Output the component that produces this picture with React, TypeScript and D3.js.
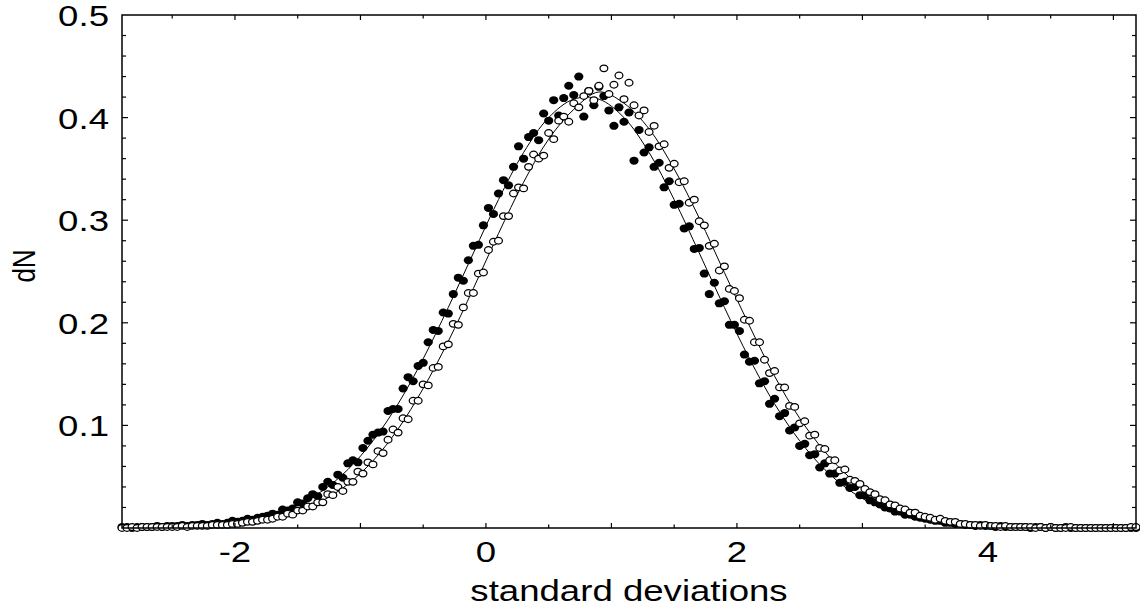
import { useEffect, useRef } from 'react';
import * as d3 from 'd3';

// histogram bins shared by both series
const binStart = -2.9;
const binWidth = 0.04;

// filled circles, 10 bins per row (row start in comment)
const filledValues = [
  0.001, 0.001, 0.0, 0.001, 0.001, 0.001, 0.001, 0.002, 0.001, 0.002, // -2.90
  0.002, 0.002, 0.003, 0.002, 0.003, 0.003, 0.004, 0.003, 0.004, 0.005, // -2.50
  0.004, 0.005, 0.007, 0.006, 0.007, 0.009, 0.008, 0.01, 0.011, 0.012, // -2.10
  0.014, 0.013, 0.018, 0.017, 0.019, 0.025, 0.024, 0.029, 0.033, 0.031, // -1.70
  0.04, 0.045, 0.042, 0.052, 0.049, 0.063, 0.066, 0.064, 0.078, 0.085, // -1.30
  0.091, 0.093, 0.094, 0.114, 0.116, 0.116, 0.136, 0.147, 0.143, 0.158, // -0.90
  0.161, 0.181, 0.193, 0.192, 0.21, 0.209, 0.228, 0.244, 0.241, 0.261, // -0.50
  0.275, 0.276, 0.295, 0.312, 0.306, 0.326, 0.339, 0.334, 0.352, 0.372, // -0.10
  0.36, 0.381, 0.385, 0.378, 0.404, 0.397, 0.417, 0.402, 0.419, 0.431, // 0.30
  0.422, 0.44, 0.401, 0.426, 0.412, 0.43, 0.421, 0.407, 0.392, 0.41, // 0.70
  0.396, 0.405, 0.358, 0.388, 0.366, 0.371, 0.352, 0.356, 0.332, 0.338, // 1.10
  0.315, 0.316, 0.292, 0.294, 0.272, 0.273, 0.248, 0.228, 0.239, 0.219, // 1.50
  0.221, 0.198, 0.198, 0.192, 0.169, 0.162, 0.163, 0.141, 0.143, 0.121, // 1.90
  0.126, 0.109, 0.112, 0.095, 0.098, 0.08, 0.082, 0.071, 0.072, 0.059, // 2.30
  0.063, 0.053, 0.053, 0.044, 0.045, 0.039, 0.04, 0.032, 0.032, 0.027, // 2.70
  0.025, 0.023, 0.02, 0.019, 0.016, 0.016, 0.013, 0.013, 0.011, 0.01, // 3.10
  0.009, 0.008, 0.007, 0.007, 0.005, 0.005, 0.004, 0.004, 0.003, 0.003, // 3.50
  0.002, 0.003, 0.002, 0.002, 0.001, 0.002, 0.001, 0.001, 0.001, 0.001, // 3.90
  0.001, 0.0, 0.001, 0.001, 0.0, 0.001, 0.0, 0.0, 0.001, 0.0, // 4.30
  0.0, 0.0, 0.0, 0.0, 0.0, 0.0, 0.0, 0.0, 0.0, 0.0, // 4.70
  0.0, 0.0, 0.0, // 5.10
];

// open circles, same bins
const openValues = [
  0.0, 0.0, 0.001, 0.0, 0.001, 0.001, 0.001, 0.001, 0.001, 0.001, // -2.90
  0.001, 0.001, 0.002, 0.001, 0.002, 0.002, 0.002, 0.002, 0.003, 0.003, // -2.50
  0.003, 0.003, 0.004, 0.004, 0.005, 0.006, 0.006, 0.007, 0.008, 0.008, // -2.10
  0.009, 0.011, 0.011, 0.014, 0.013, 0.017, 0.017, 0.021, 0.021, 0.025, // -1.70
  0.025, 0.033, 0.032, 0.04, 0.036, 0.045, 0.045, 0.055, 0.053, 0.064, // -1.30
  0.062, 0.075, 0.073, 0.086, 0.096, 0.093, 0.107, 0.106, 0.124, 0.124, // -0.90
  0.14, 0.139, 0.156, 0.157, 0.177, 0.179, 0.199, 0.198, 0.215, 0.229, // -0.50
  0.229, 0.248, 0.249, 0.271, 0.279, 0.28, 0.304, 0.304, 0.326, 0.332, // -0.10
  0.331, 0.352, 0.364, 0.36, 0.363, 0.385, 0.379, 0.397, 0.401, 0.396, // 0.30
  0.414, 0.41, 0.421, 0.426, 0.417, 0.431, 0.448, 0.423, 0.432, 0.441, // 0.70
  0.418, 0.434, 0.412, 0.402, 0.407, 0.386, 0.392, 0.372, 0.374, 0.351, // 1.10
  0.355, 0.337, 0.338, 0.317, 0.32, 0.299, 0.295, 0.275, 0.277, 0.251, // 1.50
  0.255, 0.233, 0.231, 0.224, 0.203, 0.202, 0.181, 0.181, 0.164, 0.151, // 1.90
  0.153, 0.137, 0.137, 0.119, 0.118, 0.102, 0.104, 0.09, 0.091, 0.078, // 2.30
  0.077, 0.066, 0.066, 0.056, 0.057, 0.047, 0.046, 0.043, 0.038, 0.035, // 2.70
  0.033, 0.028, 0.027, 0.023, 0.022, 0.019, 0.018, 0.015, 0.015, 0.012, // 3.10
  0.011, 0.01, 0.008, 0.009, 0.007, 0.006, 0.006, 0.004, 0.004, 0.003, // 3.50
  0.003, 0.002, 0.003, 0.002, 0.002, 0.001, 0.002, 0.001, 0.001, 0.001, // 3.90
  0.001, 0.001, 0.0, 0.001, 0.0, 0.001, 0.0, 0.0, 0.0, 0.001, // 4.30
  0.0, 0.0, 0.0, 0.0, 0.0, 0.0, 0.0, 0.0, 0.0, 0.0, // 4.70
  0.0, 0.001, 0.001, // 5.10
];

// fitted curves, read every 0.2 from -2.9
const fitStart = -2.9;
const fitStep = 0.2;
const filledFit = [
  0.0002, 0.0005, 0.001, 0.002, 0.004, 0.0074, 0.0131, 0.0224, 0.0365, 0.057,
  0.085, 0.121, 0.165, 0.215, 0.268, 0.32, 0.366, 0.4, 0.418, 0.418,
  0.4, 0.366, 0.32, 0.268, 0.215, 0.165, 0.121, 0.085, 0.057, 0.0365,
  0.0224, 0.0131, 0.0074, 0.004, 0.002, 0.001, 0.0005, 0.0002, 0.0001, 0.0,
  0.0, 0.0,
];
const openFit = [
  0.0001, 0.0003, 0.0006, 0.0013, 0.0026, 0.005, 0.009, 0.0158, 0.0268, 0.0427,
  0.0655, 0.0965, 0.136, 0.182, 0.2335, 0.287, 0.337, 0.379, 0.408, 0.425,
  0.414, 0.389, 0.35, 0.302, 0.249, 0.197, 0.148, 0.107, 0.0745, 0.049,
  0.031, 0.019, 0.011, 0.006, 0.0032, 0.0016, 0.0008, 0.0004, 0.0002, 0.0001,
  0.0, 0.0,
];

const xLabels = [-2, 0, 2, 4];
const yLabels = [0.1, 0.2, 0.3, 0.4, 0.5];

const font = "'Liberation Sans', Arial, sans-serif";
const stretch = 1.22;

export default function App() {
  const svgRef = useRef<SVGSVGElement | null>(null);

  useEffect(() => {
    const width = 1140;
    const height = 610;
    const margin = { top: 15, right: 4, bottom: 82, left: 122 };

    const svg = d3.select(svgRef.current);
    svg.selectAll('*').remove();

    const x = d3
      .scaleLinear()
      .domain([-2.9, 5.18])
      .range([margin.left, width - margin.right]);
    const y = d3
      .scaleLinear()
      .domain([0, 0.5])
      .range([height - margin.bottom, margin.top]);

    const [x0, x1] = x.range();
    const [yb, yt] = y.range();

    svg
      .append('defs')
      .append('clipPath')
      .attr('id', 'plot-clip')
      .append('rect')
      .attr('x', x0)
      .attr('y', yt)
      .attr('width', x1 - x0)
      .attr('height', yb - yt);

    // fitted curves
    const line = d3
      .line<number>()
      .x((_d, i) => x(fitStart + i * fitStep))
      .y((d) => y(d))
      .curve(d3.curveCatmullRom.alpha(0.5));

    const curves = svg.append('g').attr('clip-path', 'url(#plot-clip)');
    [filledFit, openFit].forEach((fit) => {
      curves
        .append('path')
        .attr('d', line(fit))
        .attr('fill', 'none')
        .attr('stroke', '#000')
        .attr('stroke-width', 1);
    });

    // filled points
    svg
      .append('g')
      .selectAll('ellipse')
      .data(filledValues)
      .enter()
      .append('ellipse')
      .attr('cx', (_d, i) => x(binStart + i * binWidth))
      .attr('cy', (d) => y(d))
      .attr('rx', 4.6)
      .attr('ry', 4)
      .attr('fill', '#000');

    // open points
    svg
      .append('g')
      .selectAll('ellipse')
      .data(openValues)
      .enter()
      .append('ellipse')
      .attr('cx', (_d, i) => x(binStart + i * binWidth))
      .attr('cy', (d) => y(d))
      .attr('rx', 3.9)
      .attr('ry', 3.3)
      .attr('fill', '#fff')
      .attr('stroke', '#000')
      .attr('stroke-width', 1.25);

    // frame
    svg
      .append('rect')
      .attr('x', x0)
      .attr('y', yt)
      .attr('width', x1 - x0)
      .attr('height', yb - yt)
      .attr('fill', 'none')
      .attr('stroke', '#000')
      .attr('stroke-width', 1.5);

    // ticks, pointing inward on all four sides
    const ticks = svg.append('g').attr('stroke', '#000').attr('stroke-width', 1.2);
    d3.range(-2.5, 5.01, 0.5).forEach((v) => {
      const len = Math.abs(v - Math.round(v)) < 1e-6 ? 5 : 3.5;
      ticks.append('line').attr('x1', x(v)).attr('x2', x(v)).attr('y1', yb).attr('y2', yb - len);
      ticks.append('line').attr('x1', x(v)).attr('x2', x(v)).attr('y1', yt).attr('y2', yt + len);
    });
    d3.range(1, 25).forEach((k) => {
      const v = k * 0.02;
      const len = k % 5 === 0 ? 6 : 4;
      ticks.append('line').attr('x1', x0).attr('x2', x0 + len).attr('y1', y(v)).attr('y2', y(v));
      ticks.append('line').attr('x1', x1).attr('x2', x1 - len).attr('y1', y(v)).attr('y2', y(v));
    });

    // tick labels
    xLabels.forEach((v) => {
      svg
        .append('text')
        .attr('transform', `translate(${x(v)},562) scale(${stretch},1)`)
        .attr('text-anchor', 'middle')
        .style('font-family', font)
        .style('font-size', '30px')
        .text(String(v));
    });
    yLabels.forEach((v) => {
      svg
        .append('text')
        .attr('transform', `translate(109,${y(v) + 11}) scale(${stretch},1)`)
        .attr('text-anchor', 'end')
        .style('font-family', font)
        .style('font-size', '30px')
        .text(v.toFixed(1));
    });

    // axis titles
    svg
      .append('text')
      .attr('transform', `translate(${(x0 + x1) / 2},601) scale(${stretch},1)`)
      .attr('text-anchor', 'middle')
      .style('font-family', font)
      .style('font-size', '30px')
      .text('standard deviations');

    svg
      .append('text')
      .attr('transform', `translate(35,266) scale(${stretch},1) rotate(-90)`)
      .attr('text-anchor', 'middle')
      .style('font-family', font)
      .style('font-size', '26px')
      .text('dN');
  }, []);

  return (
    <svg
      ref={svgRef}
      width={1140}
      height={610}
      style={{ position: 'absolute', left: 0, top: 0, background: '#fff' }}
    />
  );
}
